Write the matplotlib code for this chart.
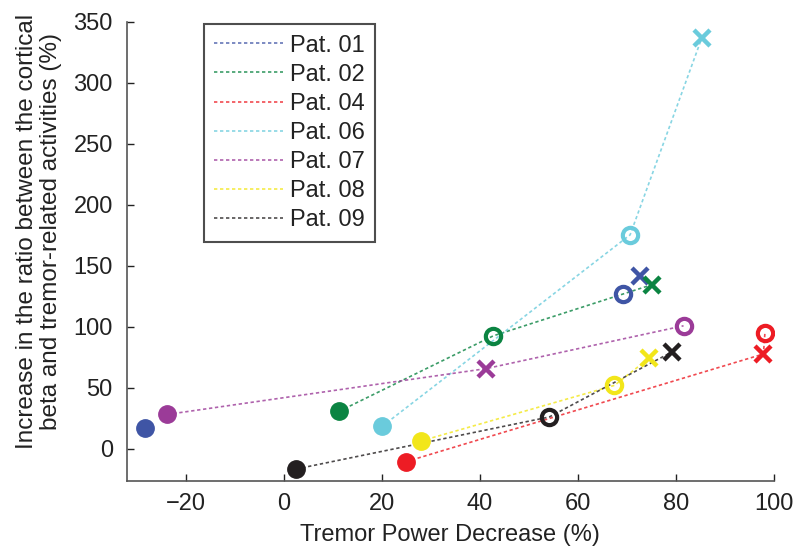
import matplotlib
matplotlib.use("Agg")
import matplotlib.pyplot as plt
from matplotlib.lines import Line2D

plt.rcParams['font.family'] = ['Liberation Sans', 'DejaVu Sans']

patients = ["Pat. 01", "Pat. 02", "Pat. 04", "Pat. 06", "Pat. 07", "Pat. 08", "Pat. 09"]
colors = ["#3f55a5", "#0b8442", "#ed1c24", "#6acbdc", "#9b3b98", "#f2e61a", "#231f20"]

# filled circles
filled_x = [-28.3, 11.3, 25.0, 20.1, -23.7, 28.0, 2.6]
filled_y = [17.2, 30.8, -10.4, 18.5, 28.3, 6.5, -16.4]
# open circles
open_x = [69.3, 42.8, 98.2, 70.7, 81.6, 67.5, 54.2]
open_y = [127.1, 92.7, 95.0, 175.4, 100.9, 52.1, 26.2]
# crosses
cross_x = [72.8, 75.1, 97.9, 85.3, 41.3, 74.6, 79.2]
cross_y = [141.3, 134.5, 77.8, 336.4, 65.8, 74.5, 79.4]
# whether a connecting line is drawn for the patient
connected = [False, True, True, True, True, True, True]

xticks = [-20, 0, 20, 40, 60, 80, 100]
yticks = [0, 50, 100, 150, 200, 250, 300, 350]

FS = 17

fig = plt.figure(figsize=(7.93, 5.48), dpi=100)
ax = fig.add_axes([0.1598, 0.1228, 0.8159, 0.8376])

handles = []
for i, name in enumerate(patients):
    c = colors[i]
    pts = sorted([(filled_x[i], filled_y[i]), (open_x[i], open_y[i]),
                  (cross_x[i], cross_y[i])], key=lambda p: p[1])
    if connected[i]:
        ax.plot([p[0] for p in pts], [p[1] for p in pts], color=c, lw=1.2,
                ls=(0, (2, 1.6)), alpha=0.8, zorder=2)
    ax.plot(filled_x[i], filled_y[i], 'o', ms=12.5, color=c, mec=c, zorder=3)
    ax.plot(open_x[i], open_y[i], 'o', ms=11, mfc='none', mec=c, mew=3, zorder=3)
    ax.plot(cross_x[i], cross_y[i], 'x', ms=11, color=c, mew=3.2, zorder=3)
    handles.append(Line2D([], [], color=c, lw=1.2, ls=(0, (2, 1.6)), alpha=0.8))

ax.set_xlim(-32, 100)
ax.set_ylim(-26, 350)
ax.set_xticks(xticks)
ax.set_yticks(yticks)
ax.set_xticklabels(["\u2212" + str(abs(t)) if t < 0 else str(t) for t in xticks])
ax.tick_params(direction='in', length=5, width=1, labelsize=FS, colors='#222222')
ax.tick_params(axis='x', pad=9)
ax.tick_params(axis='y', pad=10)
for s in ['top', 'right']:
    ax.spines[s].set_visible(False)
for s in ['left', 'bottom']:
    ax.spines[s].set_color('#555555')
    ax.spines[s].set_linewidth(1.2)

ax.set_xlabel("Tremor Power Decrease (%)", fontsize=FS, color='#222222', labelpad=6)
ax.set_ylabel("Increase in the ratio between the cortical\nbeta and tremor-related activities (%)",
              fontsize=17.5, color='#222222', linespacing=1.1)
ax.yaxis.set_label_coords(-0.1, 0.542)

leg = ax.legend(handles, patients, loc='upper left', bbox_to_anchor=(0.119, 0.995),
                fontsize=FS, frameon=True, fancybox=False, handlelength=2.9,
                handletextpad=0.3, labelspacing=0.3, borderpad=0.45,
                borderaxespad=0)
leg.get_frame().set_edgecolor('#222222')
leg.get_frame().set_linewidth(1.5)
for t in leg.get_texts():
    t.set_color('#222222')

fig.savefig("out.png", dpi=100)
